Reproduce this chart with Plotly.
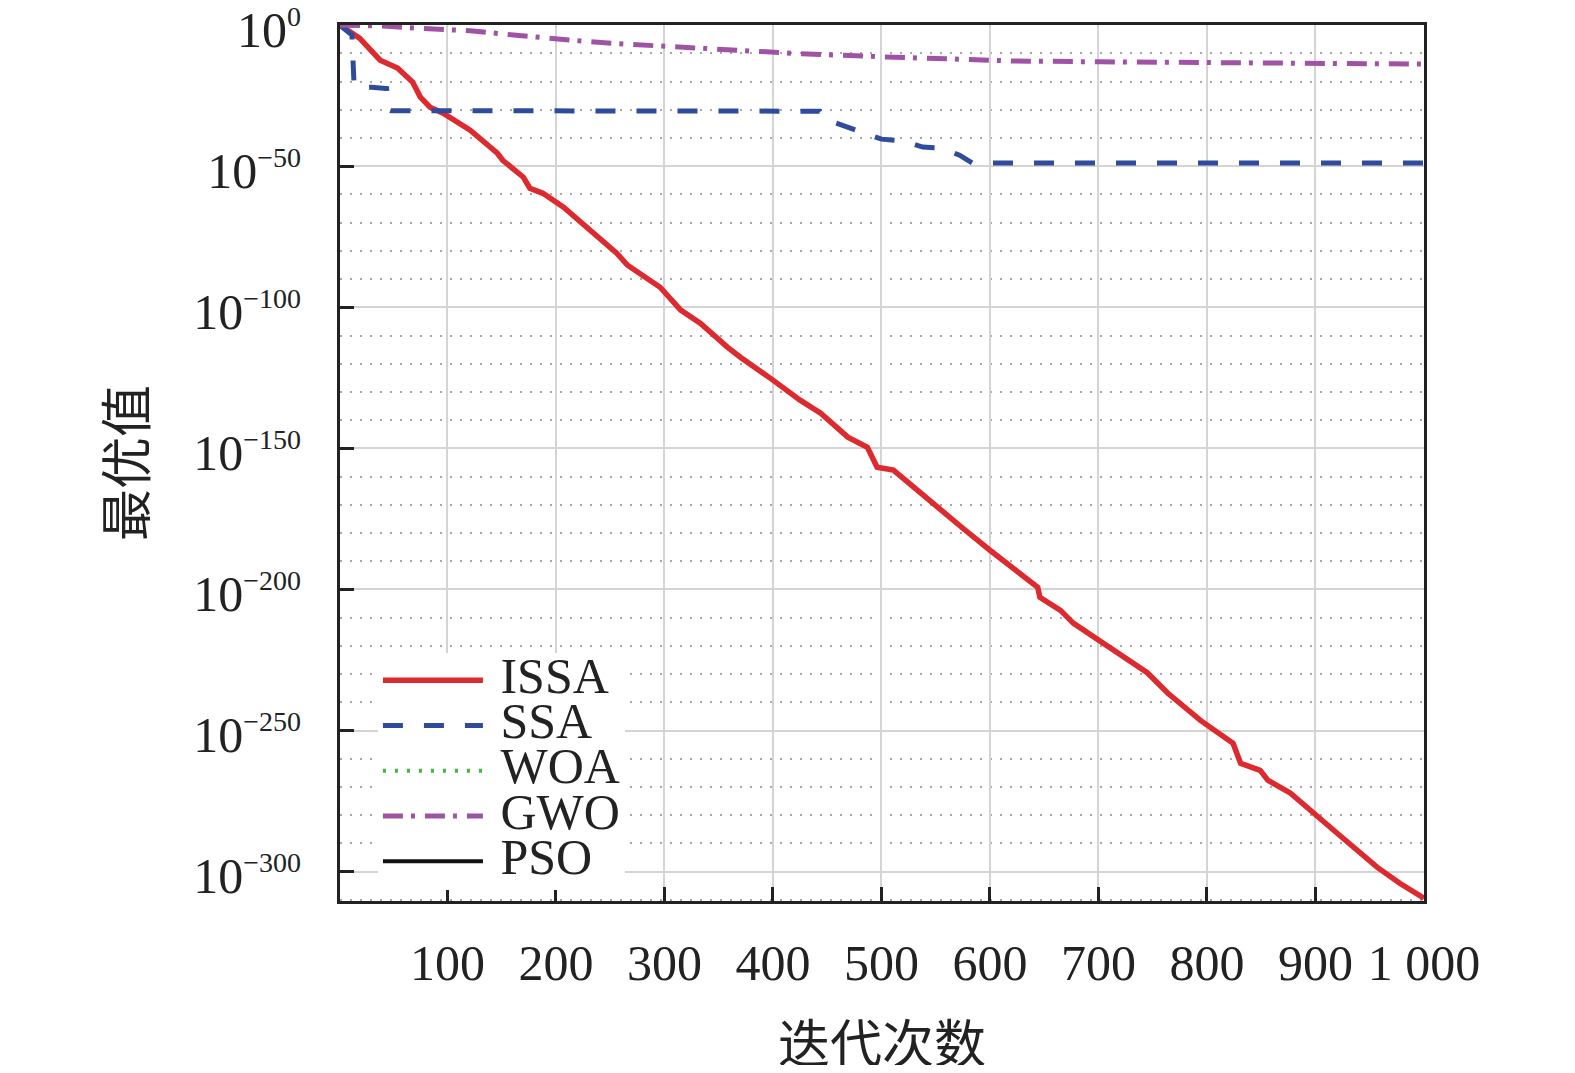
import plotly.graph_objects as go

# ---------------- data ----------------
# best value = 10 ** exponent
issa_x = [1, 4, 19, 38, 54, 68, 75, 84, 96, 121, 146, 151, 170, 176, 188, 207, 232,
          256, 266, 296, 315, 333, 358, 370, 400, 425, 444, 469, 487, 496, 511, 533,
          554, 575, 600, 622, 644, 646, 665, 677, 714, 745, 764, 794, 824, 831, 849,
          856, 877, 898, 920, 957, 978, 1000]
issa_exp = [0, -0.7, -4.6, -12.4, -15.2, -20.2, -25.5, -29.1, -31.2, -37.2, -45.4, -47.9,
            -53.9, -57.8, -59.6, -64.5, -72.7, -80.8, -85.1, -92.9, -101.0, -105.6,
            -114.1, -117.7, -125.8, -132.9, -137.5, -146.0, -149.6, -156.7, -157.7,
            -164.8, -171.9, -178.3, -186.1, -192.5, -199.2, -202.8, -207.4, -212.0,
            -221.6, -229.5, -236.8, -246.4, -254.5, -261.6, -264.1, -267.6, -272.2,
            -279.3, -286.4, -298.5, -304.2, -309.4]

ssa_x = [1, 12, 14, 15, 30, 44, 45, 48, 443, 448, 458, 470, 480, 500, 520, 538, 556,
         572, 584, 1000]
ssa_exp = [0, -3.5, -21.5, -22.0, -22.0, -22.5, -29.6, -30.3, -30.5, -33.5, -34.7,
           -36.2, -37.5, -40.4, -41.1, -43.2, -43.6, -46.1, -48.9, -48.9]

# WOA and PSO leave no visible mark in the reference (below the plotted range)
woa_x = [None]
woa_exp = [None]

gwo_x = [1, 41, 78, 121, 161, 201, 232, 268, 312, 351, 419, 499, 542, 579, 622, 702,
         810, 917, 1000]
gwo_exp = [0, -0.3, -1.2, -2.0, -3.5, -5.1, -5.9, -6.8, -7.7, -8.9, -10.0, -11.2,
           -11.6, -12.2, -12.7, -13.0, -13.4, -13.6, -13.8]

pso_x = [None]
pso_exp = [None]

series_names = ["ISSA", "SSA", "WOA", "GWO", "PSO"]
x_ticks = [100, 200, 300, 400, 500, 600, 700, 800, 900, 1000]
x_ticktext = ["100", "200", "300", "400", "500", "600", "700", "800", "900", "1 000"]
y_tick_exps = [0, -50, -100, -150, -200, -250, -300]
y_tick_sups = ["0", "\u221250", "\u2212100", "\u2212150", "\u2212200", "\u2212250", "\u2212300"]
x_title = "迭代次数"
y_title = "最优值"

# ---------------- figure ----------------
SERIF = "Liberation Serif, Times New Roman, serif"
CJK = "Noto Sans CJK SC"
INK = "#222222"


def vals(exps):
    return [None if e is None else 10.0 ** e for e in exps]


styles = [
    dict(color="#dc2a2e", width=5.5, dash="solid"),
    dict(color="#2f4b9c", width=5, dash="20px,21px"),
    dict(color="#3db83d", width=4, dash="3px,9px"),
    dict(color="#a052a4", width=5, dash="20px,8px,4px,10px"),
    dict(color="#111111", width=4, dash="solid"),
]
xs = [issa_x, ssa_x, woa_x, gwo_x, pso_x]
ys = [vals(issa_exp), vals(ssa_exp), vals(woa_exp), vals(gwo_exp), vals(pso_exp)]

fig = go.Figure()
for name, x, y, st in zip(series_names, xs, ys, styles):
    fig.add_trace(go.Scatter(
        x=x, y=y, mode="lines",
        name="<span style='font-size:50px'>\u00a0%s</span>" % name,
        line=dict(color=st["color"], width=st["width"], dash=st["dash"]),
    ))

minor_vals = [10.0 ** (-e) for e in range(10, 311, 10) if e % 50 != 0]
y_ticktext = ["10<sup><span style='font-size:28px'>%s</span></sup>" % s for s in y_tick_sups]

# the page body adds an 8 px offset, so the figure is sized to fit the window
fig.update_layout(
    width=1559, height=1057,
    margin=dict(l=332, r=143, t=17, b=164, autoexpand=False),
    paper_bgcolor="white", plot_bgcolor="white",
    font=dict(family=SERIF, size=50, color=INK),
    showlegend=True,
    legend=dict(
        x=0.035, y=0.013, xanchor="left", yanchor="bottom",
        bgcolor="white", borderwidth=0,
        font=dict(family=SERIF, size=32.5, color=INK),
        itemwidth=100, tracegroupgap=0,
    ),
    xaxis=dict(
        range=[1, 1000], tickmode="array", tickvals=x_ticks, ticktext=x_ticktext,
        ticks="inside", ticklen=14, tickwidth=3, tickcolor=INK,
        showline=True, linewidth=3, linecolor=INK, mirror=True,
        showgrid=True, gridcolor="#d4d4d4", gridwidth=2, zeroline=False,
        tickfont=dict(family=SERIF, size=50, color=INK),
        ticklabelstandoff=16, ticklabeloverflow="allow", automargin=False,
    ),
    yaxis=dict(
        type="log", range=[-310.4, 0.05], tickmode="array",
        tickvals=vals(y_tick_exps), ticktext=y_ticktext,
        ticks="inside", ticklen=14, tickwidth=3, tickcolor=INK,
        showline=True, linewidth=3, linecolor=INK, mirror=True,
        showgrid=True, gridcolor="#d4d4d4", gridwidth=2, zeroline=False,
        tickfont=dict(family=SERIF, size=50, color=INK),
        ticklabelstandoff=26, ticklabelshift=4, ticklabeloverflow="allow",
        automargin=False,
        minor=dict(tickmode="array", tickvals=minor_vals, showgrid=True,
                   gridcolor="#a8a8a8", gridwidth=2, griddash="2px,8px", ticks=""),
        title=dict(text=y_title, font=dict(family=CJK, size=52, color=INK),
                   standoff=31),
    ),
)

# x-axis title placed below the tick labels (axis titles get clamped by the page edge)
fig.add_annotation(
    text=x_title, xref="paper", yref="paper", x=0.5, y=0,
    xanchor="center", yanchor="middle", yshift=-139, showarrow=False,
    font=dict(family=CJK, size=52, color=INK),
)

fig.write_html("out.html")
